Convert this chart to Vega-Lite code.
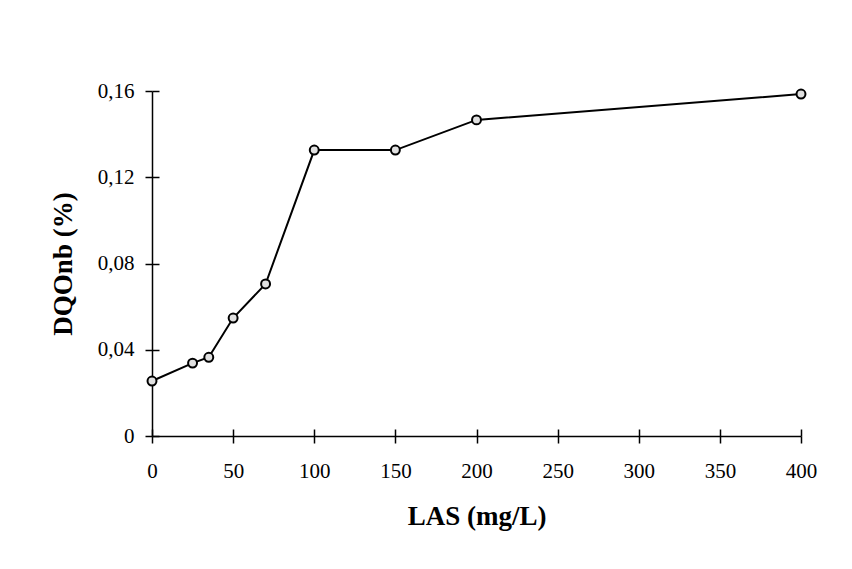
{
  "$schema": "https://vega.github.io/schema/vega-lite/v6.json",
  "autosize": "none",
  "width": 649,
  "height": 345,
  "padding": {"left": 152, "top": 91, "right": 51, "bottom": 133},
  "background": "white",
  "config": {
    "view": {"stroke": null},
    "font": "Liberation Serif",
    "axis": {
      "grid": false,
      "domainColor": "black",
      "domainWidth": 1.5,
      "tickColor": "black",
      "tickWidth": 1.5,
      "tickSize": 7,
      "labelFont": "Liberation Serif",
      "labelFontSize": 21,
      "labelColor": "black",
      "labelFlush": false,
      "titleFont": "Liberation Serif",
      "titleFontSize": 27,
      "titleFontWeight": "bold",
      "titleColor": "black"
    }
  },
  "data": {
    "values": [
      {"las": 0, "dqo": 0.0255},
      {"las": 25, "dqo": 0.0338},
      {"las": 35, "dqo": 0.0365},
      {"las": 50, "dqo": 0.0547},
      {"las": 70, "dqo": 0.0705},
      {"las": 100, "dqo": 0.1326},
      {"las": 150, "dqo": 0.1326},
      {"las": 200, "dqo": 0.1466},
      {"las": 400, "dqo": 0.1586}
    ]
  },
  "resolve": {"axis": {"x": "independent", "y": "independent"}},
  "layer": [
    {
      "mark": {"type": "line", "color": "black", "strokeWidth": 2},
      "encoding": {
        "x": {
          "field": "las",
          "type": "quantitative",
          "scale": {"domain": [0, 400], "nice": false, "zero": true},
          "axis": {
            "orient": "bottom",
            "title": "LAS (mg/L)",
            "values": [0, 50, 100, 150, 200, 250, 300, 350, 400],
            "labelPadding": 17,
            "titlePadding": 22
          }
        },
        "y": {
          "field": "dqo",
          "type": "quantitative",
          "scale": {"domain": [0, 0.16], "nice": false},
          "axis": {
            "orient": "left",
            "title": "DQOnb (%)",
            "values": [0, 0.04, 0.08, 0.12, 0.16],
            "labelExpr": "datum.value == 0 ? '0' : replace(format(datum.value, '.2f'), '.', ',')",
            "labelPadding": 11,
            "titlePadding": 20
          }
        }
      }
    },
    {
      "mark": {"type": "point", "filled": true, "fill": "#e0e0e0", "stroke": "black", "strokeWidth": 2, "size": 80, "opacity": 1},
      "encoding": {
        "x": {
          "field": "las",
          "type": "quantitative",
          "axis": {
            "orient": "top",
            "offset": -345,
            "tickSize": 7,
            "title": null,
            "labels": false,
            "domain": false,
            "values": [0, 50, 100, 150, 200, 250, 300, 350, 400]
          }
        },
        "y": {
          "field": "dqo",
          "type": "quantitative",
          "axis": {
            "orient": "right",
            "offset": -649,
            "tickSize": 7,
            "title": null,
            "labels": false,
            "domain": false,
            "values": [0, 0.04, 0.08, 0.12, 0.16]
          }
        }
      }
    }
  ]
}
